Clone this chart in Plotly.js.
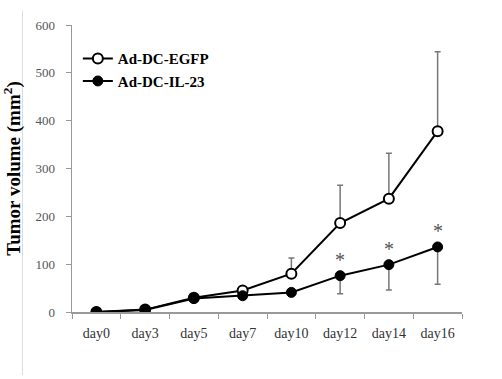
<!DOCTYPE html>
<html>
<head>
<meta charset="utf-8">
<script src="https://cdn.plot.ly/plotly-3.0.1.min.js"></script>
<style>html,body{margin:0;padding:0;background:#fff;}#chart{width:502px;height:379px;}</style>
</head>
<body>
<div id="chart"></div>
<script>
const days = ["day0","day3","day5","day7","day10","day12","day14","day16"];
const egfpMean = [0, 5, 30, 45, 80, 186, 237, 378];
const egfpErrUp = [0, 0, 0, 0, 33, 79, 95, 166];
const il23Mean = [0, 4, 28, 34, 41, 76, 99, 136];
const il23ErrDown = [0, 0, 0, 0, 0, 38, 53, 78];
const sigDays = ["day12","day14","day16"];
const sigMarks = ["*","*","*"];

const serif = "Liberation Serif, Times New Roman, serif";

const traces = [
  {
    x: days, y: egfpMean, name: "Ad-DC-EGFP", type: "scatter", mode: "lines+markers",
    line: {color: "#000", width: 2},
    marker: {symbol: "circle", size: 10, color: "#fff", line: {color: "#000", width: 2}},
    error_y: {type: "data", symmetric: false, array: egfpErrUp, arrayminus: egfpMean.map(() => 0),
              color: "#777", thickness: 1.5, width: 3}
  },
  {
    x: days, y: il23Mean, name: "Ad-DC-IL-23", type: "scatter", mode: "lines+markers",
    line: {color: "#000", width: 2},
    marker: {symbol: "circle", size: 10, color: "#000", line: {color: "#000", width: 1}},
    error_y: {type: "data", symmetric: false, array: il23Mean.map(() => 0), arrayminus: il23ErrDown,
              color: "#777", thickness: 1.5, width: 3}
  }
];

const annotations = sigDays.map((d, i) => ({
  x: d, y: il23Mean[days.indexOf(d)], xref: "x", yref: "y",
  text: sigMarks[i], showarrow: false, yshift: 16,
  font: {family: serif, size: 20, color: "#555"}
}));

const layout = {
  width: 502, height: 379,
  margin: {l: 72, r: 40, t: 25, b: 67},
  paper_bgcolor: "#fff", plot_bgcolor: "#fff",
  showlegend: true,
  legend: {x: 0.015, y: 0.94, xanchor: "left", yanchor: "top",
           font: {family: serif, size: 15, color: "#000", weight: "bold"},
           bgcolor: "rgba(0,0,0,0)", itemwidth: 30, tracegroupgap: 2},
  xaxis: {
    type: "category", range: [-0.5, 7.5],
    showline: true, linecolor: "#999", linewidth: 1.5,
    ticks: "outside", tickson: "boundaries", ticklen: 5, tickcolor: "#999",
    showgrid: false, zeroline: false, ticklabelstandoff: 8,
    tickfont: {family: serif, size: 14, color: "#333"}
  },
  yaxis: {
    range: [0, 600], dtick: 100,
    showline: true, linecolor: "#999", linewidth: 1.5,
    ticks: "outside", ticklen: 5, tickcolor: "#999",
    showgrid: false, zeroline: false, ticklabelstandoff: 8,
    tickfont: {family: serif, size: 13, color: "#555"},
    title: {text: "Tumor volume (mm<sup>2</sup>)", standoff: 11,
            font: {family: serif, size: 19, color: "#000", weight: "bold"}}
  },
  annotations: annotations,
  shapes: [{type: "line", xref: "paper", yref: "paper", x0: -0.127, x1: -0.127, y0: -0.22, y1: 1.05,
            line: {color: "#ddd", width: 1}}]
};

Plotly.newPlot("chart", traces, layout, {staticPlot: true, displayModeBar: false});
</script>
</body>
</html>
